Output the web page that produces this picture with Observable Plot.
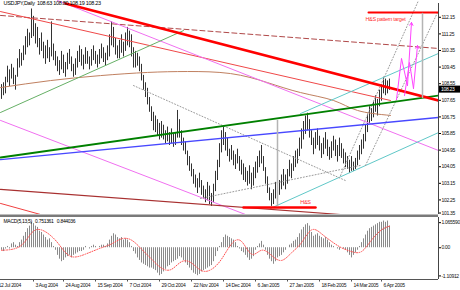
<!DOCTYPE html>
<html><head><meta charset="utf-8">
<script src="https://cdn.jsdelivr.net/npm/d3@7"></script>
<script src="https://cdn.jsdelivr.net/npm/@observablehq/plot@0.6"></script>
<style>
html,body{margin:0;padding:0;background:#fff;}
#c{width:460px;height:290px;overflow:hidden;}
#c svg{display:block;overflow:hidden;}
#c svg text{letter-spacing:-0.3px;}
</style></head><body><div id="c"></div>
<script>
// ---- price bars (daily high / low), bar index 0..194 ----
const hi = [
108.5,108.6,108.9,109.5,109.3,109.6,109.4,109.0,109.9,110.4,
110.2,110.6,111.1,111.5,111.3,112.6,112.2,111.8,111.6,111.0,
111.3,110.8,110.6,110.9,110.5,111.9,110.7,110.3,110.0,109.8,
110.3,110.1,109.7,110.2,110.4,110.0,109.6,109.9,110.3,110.6,
110.4,110.1,110.5,110.3,110.0,110.4,110.6,110.3,110.1,110.4,
110.7,110.5,110.2,110.6,111.2,111.9,111.6,111.0,110.6,110.9,
111.2,110.8,111.3,111.6,111.4,111.2,110.5,110.3,110.2,110.0,
109.6,109.0,108.6,108.3,107.8,107.3,107.0,106.8,106.6,106.4,
106.5,106.3,106.0,106.2,105.9,106.1,105.8,105.9,107.1,106.6,
106.0,105.6,105.4,104.9,104.6,104.2,103.9,103.6,103.4,103.7,
103.3,103.0,102.8,103.2,103.0,102.6,103.1,103.8,104.4,105.3,
106.0,106.2,105.9,105.6,105.0,105.2,104.9,104.7,105.0,104.6,
104.4,104.2,104.0,103.8,104.1,103.7,104.0,104.3,104.6,104.9,
105.2,104.6,104.0,103.5,102.9,102.6,102.8,103.2,103.5,103.3,
103.6,103.9,103.6,103.9,104.4,104.2,104.6,104.9,105.0,105.6,
106.1,106.5,106.8,106.95,106.6,106.0,105.6,105.9,106.1,105.7,
105.3,105.6,105.9,105.5,105.1,105.4,105.7,105.5,105.2,105.6,
105.3,105.0,104.8,104.6,104.4,104.6,104.3,104.5,104.9,105.2,
105.5,105.8,106.3,106.9,107.3,107.2,107.6,107.9,107.7,108.2,
108.5,108.9,108.8,108.7,108.8];
const lo = [
107.7,107.9,108.0,108.6,108.4,108.8,108.5,108.2,108.9,109.4,
109.5,109.8,110.1,110.5,110.6,111.0,111.1,110.7,110.5,110.1,
110.3,109.9,109.6,109.9,109.7,110.0,109.8,109.5,109.2,109.0,
109.3,109.1,108.9,109.3,109.6,109.2,108.9,109.0,109.4,109.7,
109.5,109.3,109.6,109.6,109.3,109.5,109.8,109.6,109.4,109.6,
109.9,109.7,109.5,109.8,110.0,110.6,110.5,110.1,109.9,109.9,
110.2,110.0,110.3,110.6,110.5,110.0,109.4,109.4,109.5,109.2,
108.7,108.2,107.8,107.4,107.0,106.5,106.0,105.9,105.7,105.5,
105.6,105.5,105.3,105.4,105.2,105.3,105.1,105.2,105.6,105.6,
105.2,104.9,104.7,104.1,103.8,103.5,103.1,102.9,102.6,102.9,
102.5,102.3,102.1,102.2,102.0,101.9,102.1,102.7,103.3,104.0,
104.8,105.2,104.9,104.6,104.3,104.4,104.1,103.9,104.2,103.8,
103.6,103.3,103.2,103.0,103.1,102.8,103.0,103.4,103.7,104.0,
104.2,103.8,103.1,102.6,102.2,101.9,102.0,102.3,102.7,102.5,
102.8,103.0,102.8,103.1,103.5,103.4,103.8,104.0,104.2,104.6,
105.0,105.5,105.8,106.0,105.6,105.2,104.7,105.0,105.2,104.9,
104.5,104.7,105.0,104.6,104.4,104.5,104.9,104.6,104.3,104.6,
104.5,104.2,104.0,103.9,103.7,103.8,103.8,103.9,104.1,104.4,
104.7,105.0,105.4,105.9,106.4,106.5,106.7,107.0,106.8,107.3,
107.6,108.0,107.9,108.0,108.19];
const lastQuote = [108.63, 108.80, 108.19, 108.23]; // O H L C
const priceTicks = [112.15,111.25,110.35,109.45,108.55,107.65,106.75,105.85,104.95,104.05,103.15,102.25];
const priceTickBottom = [101.35];

// ---- moving average (read points: bar index, price) ----
const maIdx = [-0.5, 24.5, 49.5, 73, 93, 114.5, 133, 149.5, 166, 178, 194.5];
const maVal = [108.34, 108.72, 108.99, 109.16, 109.21, 109.10, 108.61, 108.07, 107.64, 107.10, 106.83];

// ---- drawn trendlines [barIndex, price] ----
const redThick   = [[32, 112.90], [218.5, 107.64]];
const redThin    = [[-0.5, 112.46], [194.5, 107.64]];
const redDashed  = [[-0.5, 112.25], [218.5, 110.46]];
const magentaUp  = [[28, 113.06], [218.5, 104.93]];
const magentaLow = [[-0.5, 106.56], [122, 101.46]];
const neckline   = [[-0.5, 104.55], [218.5, 107.91]];
const greenLight = [[-0.5, 106.99], [91, 111.43]];
const blueLine   = [[-0.5, 104.44], [218.5, 106.72]];
const cyanUp     = [[149.5, 106.93], [218.5, 110.19]];
const cyanLow    = [[134.5, 101.79], [218.5, 105.90]];
const dotA       = [[66, 108.45], [172, 103.30]];
const dotB       = [[99.5, 102.33], [179.5, 104.12]];
const dotC       = [[169.5, 103.57], [208.5, 113.06]];
const dotD       = [[182, 104.12], [218.5, 112.52]];
const darkRed    = [[-0.5, 102.82], [169.5, 101.46]];
const redLowLeft = [[-0.5, 102.06], [19.5, 101.46]];
const hsBase     = [[121, 101.84], [157, 101.84]];
const targetLine = [[183.5, 112.41], [218.5, 112.41]];
const measure1   = [[138, 106.56], [138, 101.95]];
const measure2   = [[210.5, 112.36], [210.5, 107.80]];
const zig1       = [[197.5, 107.69], [200, 109.92], [203, 108.45], [205, 111.87]];
const zig2       = [[201.5, 107.91], [204, 109.70], [206, 108.29], [208, 110.62]];
const hsLabel     = [[152, 102.11, "H&S"]];
const targetLabel = [[192, 112.03, "H&S pattern target"]];

// ---- MACD ----
const macd = [
-0.1,-0.15,-0.05,0.05,-0.05,0.15,0.2,0.1,0.05,0.2,
0.3,0.45,0.6,0.75,0.85,1.0,0.95,0.85,0.8,0.65,
0.6,0.5,0.4,0.3,0.35,0.2,0.05,-0.1,-0.3,-0.45,
-0.55,-0.5,-0.4,-0.35,-0.3,-0.4,-0.3,-0.25,-0.2,-0.15,
-0.15,-0.1,0.05,0.0,-0.05,0.05,0.1,0.05,0.0,0.05,
0.1,0.1,0.05,0.15,0.3,0.45,0.55,0.5,0.4,0.35,
0.4,0.3,0.35,0.3,0.2,0.05,-0.15,-0.25,-0.4,-0.5,
-0.6,-0.65,-0.7,-0.75,-0.8,-0.8,-0.85,-0.9,-1.0,-1.1,
-1.05,-0.95,-0.85,-0.75,-0.7,-0.6,-0.55,-0.5,-0.45,-0.35,
-0.4,-0.5,-0.6,-0.7,-0.8,-0.9,-1.0,-1.05,-1.1,-1.05,
-0.95,-0.9,-0.85,-0.8,-0.75,-0.7,-0.55,-0.35,-0.15,0.05,
0.2,0.4,0.5,0.45,0.4,0.35,0.3,0.2,0.05,-0.05,
-0.15,-0.2,-0.3,-0.4,-0.5,-0.45,-0.35,-0.1,0.05,0.15,
0.25,0.1,-0.1,-0.3,-0.45,-0.55,-0.65,-0.55,-0.4,-0.35,
-0.3,-0.2,-0.1,0.0,0.1,0.15,0.25,0.3,0.4,0.55,
0.7,0.8,0.9,0.95,0.85,0.6,0.45,0.5,0.55,0.45,
0.4,0.35,0.4,0.3,0.2,0.1,0.05,0.0,-0.05,-0.1,
0.0,-0.05,-0.1,-0.2,-0.3,-0.4,-0.3,-0.2,-0.1,0.05,
0.2,0.35,0.5,0.65,0.75,0.8,0.85,0.9,0.95,1.0,
1.0,1.05,1.0,1.05,0.85];
const sigIdx = [0,10,17,25,30,35,42,50,55,60,65,70,75,80,85,90,95,100,105,110,115,120,125,130,135,140,145,150,155,160,165,170,175,180,185,190,194];
const sigVal = [-0.1,0.1,0.7,0.45,0.0,-0.35,-0.25,0.0,0.15,0.35,0.3,-0.05,-0.45,-0.8,-0.85,-0.55,-0.6,-0.9,-0.85,-0.45,0.15,0.25,-0.25,-0.1,-0.3,-0.5,-0.2,0.2,0.7,0.55,0.25,0.0,-0.15,-0.15,0.3,0.7,0.85];
const macdTicks = [0, -1.10912];
const macdTopTick = [1.06559];
const macdTickText = ["0.00", "-1.10912"];
const macdTopText = ["1.065590"];
const macdHeader = ["MACD(5,13,5)", "0.751361", "0.844036"];

// ---- date axis ----
const dateIdx = [-2.5, 16, 31, 47, 63, 79, 95, 111, 127, 143, 159, 175, 190];
const dateText = ["12 Jul 2004","3 Aug 2004","24 Aug 2004","15 Sep 2004","7 Oct 2004","29 Oct 2004","22 Nov 2004","14 Dec 2004","6 Jan 2005","27 Jan 2005","18 Feb 2005","14 Mar 2005","6 Apr 2005"];

// ---------------- build ----------------
const FONT = "'Liberation Sans','DejaVu Sans',sans-serif";
const bars = hi.map((h, i) => ({i, hi: h, lo: lo[i]}));
const pts = a => a.map(([i, p]) => ({i, p}));
const ma = maIdx.map((i, k) => ({i, p: maVal[k]}));
const XD = [-0.5, 218.5];
const YD = [101.46, 113.06];
const seg = (a, o) => Plot.line(pts(a), {x: "i", y: "p", clip: true, ...o});
const title = `USDJPY,Daily  ${lastQuote.map(d => d.toFixed(2)).join(" ")}`;
const close = lastQuote[3];
const FS = 5;
const ax = {anchor: "right", tickSize: 2, tickPadding: 1, fill: "#111", fontSize: FS, label: null};

const main = Plot.plot({
  width: 460, height: 217,
  marginTop: 0, marginBottom: 3, marginLeft: 0, marginRight: 22,
  x: {domain: XD, axis: null, label: null},
  y: {domain: YD, axis: null, label: null},
  style: {fontFamily: FONT, fontSize: "5px", background: "#fff", overflow: "hidden"},
  marks: [
    Plot.ruleX(bars, {x: "i", y1: "lo", y2: "hi", stroke: "#333", strokeWidth: 1}),
    Plot.line(ma, {x: "i", y: "p", stroke: "#c08060", strokeWidth: 1, curve: "natural"}),
    seg(redDashed, {stroke: "#b04848", strokeWidth: 1, strokeDasharray: "5,3"}),
    seg(redThin, {stroke: "#f04848", strokeWidth: 1}),
    seg(magentaUp, {stroke: "#f070f0", strokeWidth: 1}),
    seg(magentaLow, {stroke: "#f070f0", strokeWidth: 1}),
    seg(greenLight, {stroke: "#66b066", strokeWidth: 1}),
    seg(cyanUp, {stroke: "#60c8c8", strokeWidth: 1}),
    seg(cyanLow, {stroke: "#60c8c8", strokeWidth: 1}),
    seg(dotA, {stroke: "#9a9a9a", strokeWidth: 1, strokeDasharray: "1,2"}),
    seg(dotB, {stroke: "#9a9a9a", strokeWidth: 1, strokeDasharray: "1,2"}),
    seg(dotC, {stroke: "#9a9a9a", strokeWidth: 1, strokeDasharray: "1,2"}),
    seg(dotD, {stroke: "#9a9a9a", strokeWidth: 1, strokeDasharray: "1,2"}),
    seg(darkRed, {stroke: "#a83030", strokeWidth: 1.2}),
    seg(redLowLeft, {stroke: "#f04040", strokeWidth: 1}),
    seg(blueLine, {stroke: "#4848ff", strokeWidth: 1.3}),
    seg(neckline, {stroke: "#008000", strokeWidth: 1.8}),
    seg(redThick, {stroke: "#ff0000", strokeWidth: 2.5}),
    seg(hsBase, {stroke: "#ff0000", strokeWidth: 2.5}),
    seg(targetLine, {stroke: "#ff0000", strokeWidth: 2}),
    seg(measure1, {stroke: "#b4b4b4", strokeWidth: 1.5}),
    seg(measure2, {stroke: "#b4b4b4", strokeWidth: 1.5}),
    Plot.line(pts(zig1).slice(0, 3), {x: "i", y: "p", stroke: "#ff44ff", strokeWidth: 1}),
    Plot.arrow([zig1], {x1: d => d[2][0], y1: d => d[2][1], x2: d => d[3][0], y2: d => d[3][1], stroke: "#ff44ff", strokeWidth: 1, headLength: 5}),
    Plot.line(pts(zig2).slice(0, 3), {x: "i", y: "p", stroke: "#ff44ff", strokeWidth: 1}),
    Plot.arrow([zig2], {x1: d => d[2][0], y1: d => d[2][1], x2: d => d[3][0], y2: d => d[3][1], stroke: "#ff44ff", strokeWidth: 1, headLength: 5}),
    Plot.text(hsLabel, {x: d => d[0], y: d => d[1], text: d => d[2], fill: "#ff3030", fontSize: 5.5}),
    Plot.text(targetLabel, {x: d => d[0], y: d => d[1], text: d => d[2], fill: "#ff3030", fontSize: 5.5}),
    Plot.ruleY([YD[0]], {stroke: "#7a7a7a", strokeWidth: 3, dy: 1.5}),
    Plot.ruleX([XD[1]], {stroke: "#444", strokeWidth: 1, y1: YD[0], y2: YD[1], insetBottom: -3}),
    Plot.axisY(priceTicks, {...ax, tickFormat: d => d.toFixed(2)}),
    Plot.axisY(priceTickBottom, {...ax, tickFormat: d => d.toFixed(2), dy: -3.5}),
    Plot.rect([close], {x1: XD[1] + 0.5, x2: XD[1] + 11, y1: d => d - 0.19, y2: d => d + 0.19, fill: "#000"}),
    Plot.text([close], {x: XD[1] + 0.5, y: d => d, text: d => d.toFixed(2), fill: "#fff", textAnchor: "start", dx: 1.5, fontSize: FS}),
    Plot.text([title], {frameAnchor: "top-left", dx: 3, dy: 1, lineAnchor: "top", textAnchor: "start", fill: "#000", fontSize: 5.5})
  ]
});

const hist = macd.map((v, i) => ({i, v}));
const sig = sigIdx.map((i, k) => ({i, v: sigVal[k]}));
const MD = [-1.25, 1.19];
const tickMap = new Map(macdTicks.map((t, k) => [t, macdTickText[k]]));
const topMap = new Map(macdTopTick.map((t, k) => [t, macdTopText[k]]));
const macdPlot = Plot.plot({
  width: 460, height: 73,
  marginTop: 0, marginBottom: 11, marginLeft: 0, marginRight: 22,
  x: {domain: XD, axis: null, label: null},
  y: {domain: MD, axis: null, label: null},
  style: {fontFamily: FONT, fontSize: "5px", background: "#fff", overflow: "hidden"},
  marks: [
    Plot.ruleX(hist, {x: "i", y1: 0, y2: "v", stroke: "#8a8a8a", strokeWidth: 1}),
    Plot.line(sig, {x: "i", y: "v", stroke: "#ff5050", strokeWidth: 1, strokeDasharray: "1,1.5", curve: "natural"}),
    Plot.ruleY([MD[0]], {stroke: "#555", strokeWidth: 1}),
    Plot.ruleX([XD[1]], {stroke: "#444", strokeWidth: 1}),
    Plot.ruleX(dateIdx, {x: d => d, y1: MD[0], y2: MD[0] - 0.1, stroke: "#555"}),
    Plot.axisY(macdTicks, {...ax, tickFormat: d => tickMap.get(d)}),
    Plot.axisY(macdTopTick, {...ax, tickFormat: d => topMap.get(d), dy: 2}),
    Plot.text(dateText, {x: (d, k) => dateIdx[k], frameAnchor: "bottom", lineAnchor: "middle", dy: 6, dx: 2, textAnchor: "start", fill: "#111", fontSize: FS}),
    Plot.text([macdHeader.join("   ")], {frameAnchor: "top-left", dx: 3, dy: 2, lineAnchor: "top", textAnchor: "start", fill: "#000", fontSize: FS})
  ]
});

const c = document.getElementById("c");
c.appendChild(main);
c.appendChild(macdPlot);
</script>
</body></html>
